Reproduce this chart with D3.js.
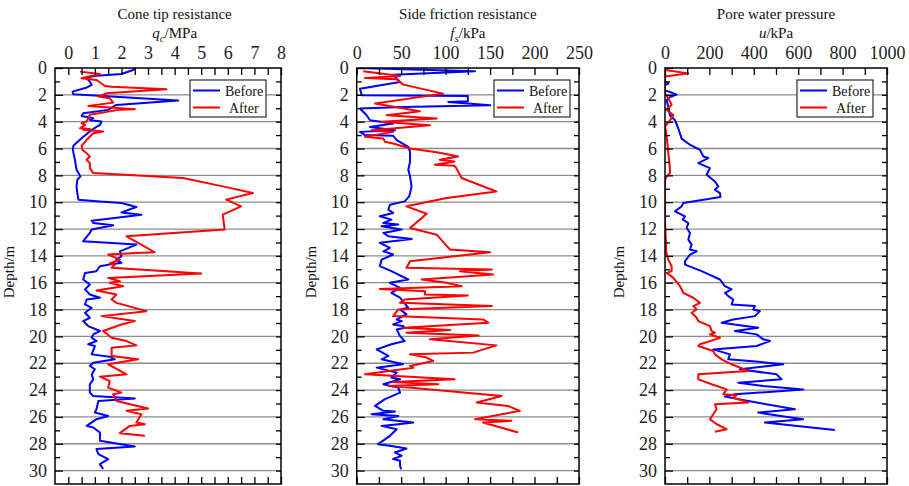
<!DOCTYPE html>
<html>
<head>
<meta charset="utf-8">
<script src="https://cdn.jsdelivr.net/npm/d3@7"></script>
<style>
	body { margin: 0; background: #fff; }
	svg { display: block; font-family: 'Liberation Serif', 'Times New Roman', serif; }
</style>
</head>
<body>
<div data-chart></div>
<script>
// depth (m), value
const qcBefore = [[0,2.5],[0.15,2.44],[0.45,2.0],[0.55,1.2],[0.7,0.65],[1.0,0.81],[1.26,0.88],[1.45,0.7],[1.76,0.16],[1.96,0.19],[2.43,4.13],[2.75,1.81],[2.87,1.69],[3.12,1.5],[3.37,0.56],[3.57,0.5],[3.74,0.94],[3.87,0.81],[3.99,1.25],[4.24,1.19],[4.61,0.88],[5.23,0.5],[5.8,0.19],[6.1,0.17],[6.84,0.25],[7.58,0.31],[8.08,0.46],[8.33,0.34],[8.82,0.31],[9.32,0.34],[9.81,0.38],[9.94,1.19],[10.06,2.0],[10.36,2.56],[10.76,2.0],[10.93,2.75],[11.38,0.88],[11.55,0.94],[11.72,1.69],[12.04,0.88],[12.29,0.81],[12.91,0.56],[13.16,2.56],[13.66,1.94],[14.03,2.0],[14.28,1.81],[14.52,2.0],[14.65,1.56],[14.77,1.19],[15.14,1.06],[15.27,0.63],[15.76,0.56],[16.13,0.81],[16.5,0.63],[16.88,0.81],[17.12,1.19],[17.25,0.69],[17.62,0.63],[17.87,0.88],[18.24,0.63],[18.61,0.81],[18.86,0.56],[19.23,0.75],[19.6,1.19],[19.85,0.94],[20.1,0.88],[20.35,1.06],[20.59,0.75],[20.72,1.0],[21.34,0.88],[21.51,1.56],[21.71,1.75],[21.96,0.94],[22.2,0.81],[22.45,1.0],[22.83,0.88],[23.2,0.94],[23.57,0.81],[24.19,0.81],[24.44,0.94],[24.63,2.5],[24.81,1.13],[25.43,1.06],[25.67,1.0],[25.93,1.5],[26.17,1.06],[26.67,0.69],[26.79,0.94],[27.16,1.19],[27.78,1.19],[28.2,2.5],[28.4,1.06],[28.77,1.13],[29.14,1.5],[29.52,1.19],[29.88,1.31]]
const qcAfter = [[0.27,0.44],[0.45,1.19],[0.77,0.5],[0.89,1.06],[1.34,1.38],[1.39,1.63],[1.59,3.69],[1.88,1.44],[2.13,1.13],[2.26,1.56],[2.58,1.69],[2.83,0.75],[3.07,2.5],[3.12,1.88],[3.49,0.81],[3.99,0.69],[4.11,0.5],[4.24,0.63],[4.49,0.44],[4.55,0.81],[4.61,0.56],[4.73,1.31],[4.86,0.94],[5.35,0.69],[5.8,0.5],[6.1,0.53],[6.47,0.75],[6.6,0.81],[6.84,0.69],[7.09,0.81],[7.46,0.81],[7.83,0.94],[8.2,4.31],[8.82,5.81],[9.32,6.94],[9.81,5.94],[10.31,6.5],[10.93,5.81],[12.04,5.88],[12.54,2.19],[13.73,3.25],[13.78,2.56],[13.9,1.5],[14.28,1.94],[14.57,1.56],[14.65,1.75],[14.89,1.63],[15.32,5.0],[15.64,1.5],[15.89,1.94],[16.01,1.56],[16.26,2.06],[16.58,1.06],[16.88,1.81],[17.25,1.63],[17.5,1.81],[18.12,2.94],[18.49,1.25],[18.86,2.5],[19.11,2.0],[19.6,1.31],[20.1,1.63],[20.35,2.19],[20.67,2.56],[20.84,1.63],[21.46,1.63],[21.71,2.63],[22.08,1.5],[22.83,2.19],[23.0,1.19],[23.33,1.56],[23.82,1.5],[24.19,2.0],[24.31,1.69],[24.81,1.81],[25.38,3.0],[25.55,2.19],[25.8,2.75],[26.42,2.56],[26.54,2.88],[26.67,2.31],[27.21,1.94],[27.41,2.88]]

const fsBefore = [[0,1.9],[0.25,133],[0.5,41],[1.04,48.7],[1.54,3.7],[2.03,5.6],[2.08,125],[2.48,125],[2.53,103],[2.78,150],[2.9,52.5],[3.02,3.7],[3.52,11.2],[3.89,15],[4.14,41],[4.39,15],[4.64,43],[4.76,3.7],[5.0,9.3],[5.05,41],[5.38,45],[5.87,58],[6.25,60],[6.99,60],[7.58,58],[8.08,60],[8.82,61.7],[9.32,60],[9.57,59],[9.94,54],[10.19,37.4],[10.56,35.5],[10.8,41],[11.05,26],[11.3,39],[11.55,30],[11.67,46.8],[11.8,28],[12.04,50.6],[12.29,30],[12.54,35.5],[12.74,62],[13.03,26],[13.4,37.4],[13.66,30],[13.9,41],[14.28,28],[14.77,26],[15.14,39],[15.76,58],[16.01,37.4],[16.38,48.7],[16.75,39],[17.12,48.7],[17.87,58],[17.99,48.7],[18.36,56],[18.74,45],[18.86,50.6],[19.11,41],[19.23,52],[19.36,54],[19.48,45],[19.98,48.7],[20.35,54],[20.59,39],[20.97,22.5],[21.46,35.5],[21.71,28],[22.08,52],[22.33,22.5],[22.7,45],[23.07,39],[23.2,48.7],[23.57,30],[23.82,46.8],[24.19,48.7],[24.68,31.8],[25.18,20.6],[25.55,30],[25.6,43],[25.8,16.8],[25.93,46.8],[26.17,30],[26.42,63.6],[26.54,46.8],[26.67,28],[26.92,45],[27.41,37.4],[28.03,24],[28.16,39],[28.35,56],[28.65,43],[28.9,50.6],[29.14,41],[29.27,48.7],[29.64,48.7],[29.9,50]]
const fsAfter = [[0.25,7.4],[0.6,48.7],[0.74,9.3],[0.84,45],[1.24,52.5],[1.91,97.3],[2.65,20.6],[3.22,71],[3.52,33.7],[3.77,90],[4.01,28],[4.26,82.4],[4.64,16.8],[4.76,41],[5.13,9.3],[5.26,30],[5.5,31.8],[5.63,41],[6.0,60],[6.3,91.8],[6.59,114],[6.84,93.6],[6.96,110],[7.21,88],[7.29,110],[7.46,112],[7.96,116],[8.2,118],[9.2,157],[9.69,101],[10.31,56],[10.86,78.7],[11.92,60],[12.42,90],[13.53,105],[13.73,150],[14.4,60],[14.89,56],[15.02,152],[15.14,116],[15.39,153.5],[15.76,73],[16.01,101],[16.26,118],[16.46,26],[16.63,76.7],[16.88,76.7],[16.95,125],[17.25,54],[17.5,48.7],[17.74,152],[17.99,46.8],[18.49,41],[18.74,142],[18.98,148],[19.36,52.5],[19.53,105],[19.73,56],[19.93,137],[20.22,82.4],[20.67,157],[21.21,131],[21.34,60],[21.58,78.7],[21.83,86],[22.2,60],[22.33,63.6],[22.83,9.3],[23.2,110],[23.4,41],[23.57,91.8],[23.69,35.5],[23.82,61.7],[24.44,163],[24.93,135],[25.18,170],[25.55,183.5],[26.17,133],[26.29,174],[26.42,142],[27.16,181.6]]

const uBefore = [[0.05,0],[1.0,0],[1.04,7.5],[1.17,15],[1.25,0],[1.66,0],[1.98,52.5],[2.16,22.5],[2.4,7.5],[2.9,15],[3.52,22.5],[3.89,45],[4.51,60],[5.26,75],[5.72,112.5],[6.1,157.5],[6.6,172.5],[6.71,195],[7.09,150],[7.46,202.5],[7.96,187.5],[8.46,225],[8.82,240],[9.07,225],[9.32,247.5],[9.61,250],[10.06,82.5],[10.31,75],[10.68,45],[11.06,90],[11.3,80],[11.55,105],[11.92,97.5],[12.29,112.5],[12.79,105],[13.16,120],[13.53,112.5],[13.66,142.5],[13.9,112.5],[14.4,90],[14.65,90],[15.14,165],[15.76,247.5],[16.26,270],[16.5,300],[16.75,270],[17.0,285],[17.25,307.5],[17.62,300],[17.74,405],[17.99,397.5],[18.12,427.5],[18.49,405],[18.74,307.5],[18.98,255],[19.36,420],[19.6,315],[19.85,412.5],[20.22,442.5],[20.35,472.5],[20.72,412.5],[20.97,217.5],[21.34,292.5],[21.71,285],[21.83,382.5],[22.08,532.5],[22.45,337.5],[22.83,502.5],[23.2,525],[23.45,330],[23.69,442.5],[23.95,622.5],[24.19,427.5],[24.31,315],[24.49,270],[24.93,412.5],[25.43,585],[25.68,420],[26.17,622.5],[26.42,450],[26.97,765]]
const uAfter = [[0.15,0],[0.4,105],[0.64,0],[1.88,0],[2.26,15],[2.75,30],[3.12,7.5],[3.5,37.5],[3.74,30],[4.36,0],[5.1,7.5],[6.34,15],[7.58,22.5],[7.83,22.5],[8.08,7.5],[8.33,0],[11.3,0],[13.29,4.5],[13.66,4.5],[14.28,15],[14.77,30],[15.14,30],[15.27,7.5],[15.64,37.5],[16.26,67.5],[16.75,82.5],[17.12,127.5],[17.5,157.5],[17.74,127.5],[17.99,142.5],[18.24,120],[18.61,142.5],[18.86,150],[19.23,202.5],[19.6,210],[19.73,225],[19.85,202.5],[20.1,247.5],[20.35,202.5],[20.59,157.5],[20.72,150],[21.09,217.5],[21.34,225],[21.71,255],[22.08,300],[22.58,375],[22.83,150],[23.2,150],[23.57,210],[23.95,277.5],[24.31,262.5],[24.39,322.5],[24.56,307.5],[24.93,375],[25.06,225],[25.43,232.5],[26.17,202.5],[26.54,232.5],[26.92,277.5],[27.11,225]]

const titles = ['Cone tip resistance', 'Side friction resistance', 'Pore water pressure']
const units = [['q', 'c', '/MPa'], ['f', 's', '/kPa'], ['u', '', '/kPa']]
const seriesNames = ['Before', 'After']
const depthTicks = d3.range(0, 31, 2)

const dimensions = {
	width: 909,
	height: 486,
	top: 68,
	bottom: 484
}

const panels = [
	{ left: 55, right: 281, domain: [-0.5, 8], ticks: d3.range(0, 8.01, 0.5), labelStep: 1, legendX: 190, series: [qcBefore, qcAfter] },
	{ left: 356.7, right: 579, domain: [0, 250], ticks: d3.range(0, 251, 25), labelStep: 50, legendX: 494, series: [fsBefore, fsAfter] },
	{ left: 665, right: 887, domain: [0, 1000], ticks: d3.range(0, 1001, 100), labelStep: 200, legendX: 797, series: [uBefore, uAfter] }
]

const colors = ['#0000ff', '#ff0000']

const svg = d3.select('[data-chart]')
	.append('svg')
	.attr('width', dimensions.width)
	.attr('height', dimensions.height)

const yScale = d3.scaleLinear()
	.domain([0, 31])
	.range([dimensions.top, dimensions.bottom])

panels.forEach((p, i) => {
	const xScale = d3.scaleLinear()
		.domain(p.domain)
		.range([p.left, p.right])

	const g = svg.append('g')

	/* Grid */
	g.append('g')
		.selectAll('line')
		.data(depthTicks.filter((d) => d > 0))
		.join('line')
		.attr('x1', p.left)
		.attr('x2', p.right)
		.attr('y1', (d) => yScale(d))
		.attr('y2', (d) => yScale(d))
		.attr('stroke', '#8c8c8c')
		.attr('stroke-width', 1.3)

	/* Lines */
	g.append('clipPath')
		.attr('id', `clip${i}`)
		.append('rect')
		.attr('x', p.left)
		.attr('y', dimensions.top)
		.attr('width', p.right - p.left)
		.attr('height', dimensions.bottom - dimensions.top)

	const lineGenerator = d3.line()
		.x((d) => xScale(d[1]))
		.y((d) => yScale(d[0]))

	p.series.forEach((s, k) => {
		g.append('path')
			.datum(s)
			.attr('d', lineGenerator)
			.attr('clip-path', `url(#clip${i})`)
			.attr('fill', 'none')
			.attr('stroke', colors[k])
			.attr('stroke-width', 2)
			.attr('stroke-linejoin', 'round')
	})

	/* Axes */
	const fmt = (d) => (Math.abs(d / p.labelStep - Math.round(d / p.labelStep)) < 1e-6 ? d : '')

	const styleAxis = (sel) => {
		sel.select('.domain').remove()
		sel.selectAll('line').attr('stroke', '#000').attr('stroke-width', 1.3)
		sel.selectAll('text')
			.attr('fill', '#222')
			.style('font-size', '18px')
			.style('font-family', "'Liberation Serif', 'Times New Roman', serif")
	}

	g.append('g')
		.attr('transform', `translate(0,${dimensions.top})`)
		.call(d3.axisTop(xScale).tickValues(p.ticks).tickFormat(fmt).tickSize(-7).tickPadding(9))
		.call(styleAxis)

	g.append('g')
		.attr('transform', `translate(0,${dimensions.bottom})`)
		.call(d3.axisBottom(xScale).tickValues(p.ticks).tickFormat('').tickSize(-7))
		.call(styleAxis)

	g.append('g')
		.attr('transform', `translate(${p.left},0)`)
		.call(d3.axisLeft(yScale).tickValues(depthTicks).tickSize(-8).tickPadding(8))
		.call(styleAxis)

	g.append('g')
		.attr('transform', `translate(${p.left},0)`)
		.call(d3.axisLeft(yScale).tickValues(d3.range(1, 31, 2)).tickFormat('').tickSize(-5))
		.call(styleAxis)

	g.append('g')
		.attr('transform', `translate(${p.right},0)`)
		.call(d3.axisRight(yScale).tickValues(d3.range(1, 31, 1)).tickFormat('').tickSize(-5))
		.call(styleAxis)

	/* Frame */
	g.append('rect')
		.attr('x', p.left)
		.attr('y', dimensions.top)
		.attr('width', p.right - p.left)
		.attr('height', dimensions.bottom - dimensions.top)
		.attr('fill', 'none')
		.attr('stroke', '#000')
		.attr('stroke-width', 1.5)

	/* Titles */
	const cx = xScale((p.ticks[0] + p.ticks[p.ticks.length - 1]) / 2)

	g.append('text')
		.attr('x', cx)
		.attr('y', 19)
		.attr('text-anchor', 'middle')
		.style('font-size', '15px')
		.attr('fill', '#111')
		.text(titles[i])

	const unit = g.append('text')
		.attr('x', cx)
		.attr('y', 38)
		.attr('text-anchor', 'middle')
		.style('font-size', '15px')
		.attr('fill', '#111')

	unit.append('tspan').style('font-style', 'italic').text(units[i][0])
	if (units[i][1]) {
		unit.append('tspan').style('font-style', 'italic').style('font-size', '11px').attr('dy', 4).text(units[i][1])
		unit.append('tspan').attr('dy', -4).text(units[i][2])
	} else {
		unit.append('tspan').text(units[i][2])
	}

	g.append('text')
		.attr('transform', `translate(${p.left - 41},272) rotate(-90)`)
		.attr('text-anchor', 'middle')
		.style('font-size', '15px')
		.attr('fill', '#111')
		.text('Depth/m')

	/* Legend */
	const legend = g.append('g')
		.attr('transform', `translate(${p.legendX},80)`)

	legend.append('rect')
		.attr('width', 76)
		.attr('height', 37)
		.attr('fill', '#fff')
		.attr('stroke', '#000')
		.attr('stroke-width', 1)

	seriesNames.forEach((name, k) => {
		const y = 10.5 + k * 17
		legend.append('line')
			.attr('x1', 3)
			.attr('x2', 30)
			.attr('y1', y)
			.attr('y2', y)
			.attr('stroke', colors[k])
			.attr('stroke-width', 2)
		legend.append('text')
			.attr('x', k === 0 ? 35 : 39)
			.attr('y', y + 5)
			.style('font-size', '14px')
			.attr('fill', '#111')
			.text(name)
	})
})
</script>
</body>
</html>
